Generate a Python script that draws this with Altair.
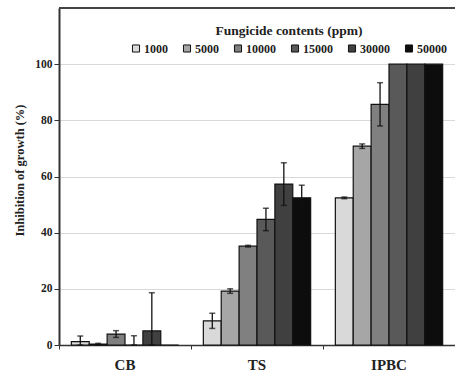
import altair as alt
import pandas as pd

categories = ["CB", "TS", "IPBC"]
concentrations = ["1000", "5000", "10000", "15000", "30000", "50000"]
cb_values = [1.2, 0.3, 3.9, 0.0, 5.0, 0.0]
cb_errors = [2.0, 0.3, 1.2, 3.3, 13.6, 0.0]
ts_values = [8.6, 19.2, 35.2, 44.7, 57.3, 52.4]
ts_errors = [2.7, 0.8, 0.3, 4.0, 7.6, 4.5]
ipbc_values = [52.4, 70.8, 85.7, 100.0, 100.0, 100.0]
ipbc_errors = [0.3, 0.8, 7.7, 0.0, 0.0, 0.0]
grays = ["#d9d9d9", "#a6a6a6", "#808080", "#595959", "#404040", "#0d0d0d"]
y_ticks = [0, 20, 40, 60, 80, 100]

rows = []
for cat, vals, errs in [("CB", cb_values, cb_errors), ("TS", ts_values, ts_errors),
                        ("IPBC", ipbc_values, ipbc_errors)]:
    for c, v, e in zip(concentrations, vals, errs):
        rows.append({"cat": cat, "conc": c, "value": v, "err": e,
                     "lo": max(0.0, v - e), "hi": v + e})
df = pd.DataFrame(rows)

FONT = "Liberation Serif"

x_enc = alt.X("cat:N", sort=categories, title=None,
              scale=alt.Scale(paddingInner=0, paddingOuter=0),
              axis=alt.Axis(bandPosition=0, labelAngle=0,
                            labelFont=FONT, labelFontWeight="bold", labelFontSize=15,
                            labelColor="#222", labelPadding=8, tickSize=4,
                            tickColor="#333", domainColor="#333", domainWidth=1.5))
xo_enc = alt.XOffset("conc:N", sort=concentrations,
                     scale=alt.Scale(paddingInner=0, paddingOuter=0.69))
y_scale = alt.Scale(domain=[0, 120], nice=False)

base = alt.Chart(df)

bars = base.mark_bar(stroke="#111", strokeWidth=1.2).encode(
    x=x_enc,
    xOffset=xo_enc,
    y=alt.Y("value:Q", scale=y_scale, title="Inhibition of growth (%)",
            axis=alt.Axis(values=y_ticks, grid=True, gridColor="#d9d9d9",
                          gridWidth=1.2, labelFont=FONT, labelFontWeight="bold",
                          labelFontSize=11.5, labelColor="#222", tickSize=5,
                          tickColor="#333", domainColor="#333", domainWidth=2,
                          titleFont=FONT, titleFontWeight="bold", titleFontSize=12.5,
                          titleColor="#222", titlePadding=8, titleY=162)),
    color=alt.Color("conc:N", sort=concentrations,
                    scale=alt.Scale(domain=concentrations, range=grays),
                    legend=alt.Legend(title="Fungicide contents (ppm)", orient="none",
                                      legendX=71, legendY=16, direction="horizontal",
                                      columns=6, titleAnchor="middle",
                                      titleFont=FONT, titleFontWeight="bold",
                                      titleFontSize=13.5, titleColor="#222",
                                      labelFont=FONT, labelFontWeight="bold",
                                      labelFontSize=12, labelColor="#222",
                                      symbolType="square", symbolSize=50,
                                      symbolStrokeColor="#111", symbolStrokeWidth=1,
                                      columnPadding=13, labelOffset=2, padding=0)),
)

err = base.transform_filter("datum.err > 0")

rules = err.mark_rule(color="#111", strokeWidth=1.3).encode(
    x=alt.X("cat:N", sort=categories), xOffset=xo_enc,
    y=alt.Y("lo:Q", scale=y_scale), y2="hi:Q")
caps_hi = err.mark_tick(color="#111", orient="horizontal", size=6, thickness=1.5).encode(
    x=alt.X("cat:N", sort=categories), xOffset=xo_enc, y=alt.Y("hi:Q", scale=y_scale))
caps_lo = err.mark_tick(color="#111", orient="horizontal", size=6, thickness=1.5).encode(
    x=alt.X("cat:N", sort=categories), xOffset=xo_enc, y=alt.Y("lo:Q", scale=y_scale))

top_line = alt.Chart(pd.DataFrame({"y": [120]})).mark_rule(
    color="#444", strokeWidth=2).encode(y=alt.Y("y:Q", scale=y_scale))

chart = alt.layer(bars, rules, caps_hi, caps_lo, top_line).properties(
    width=396, height=337,
    autosize=alt.AutoSizeParams(type="none"),
    padding={"left": 59, "top": 8, "right": 0, "bottom": 33},
).configure_view(stroke=None).configure(background="white")

chart.save("out.html", embed_options={"renderer": "svg", "actions": False})
